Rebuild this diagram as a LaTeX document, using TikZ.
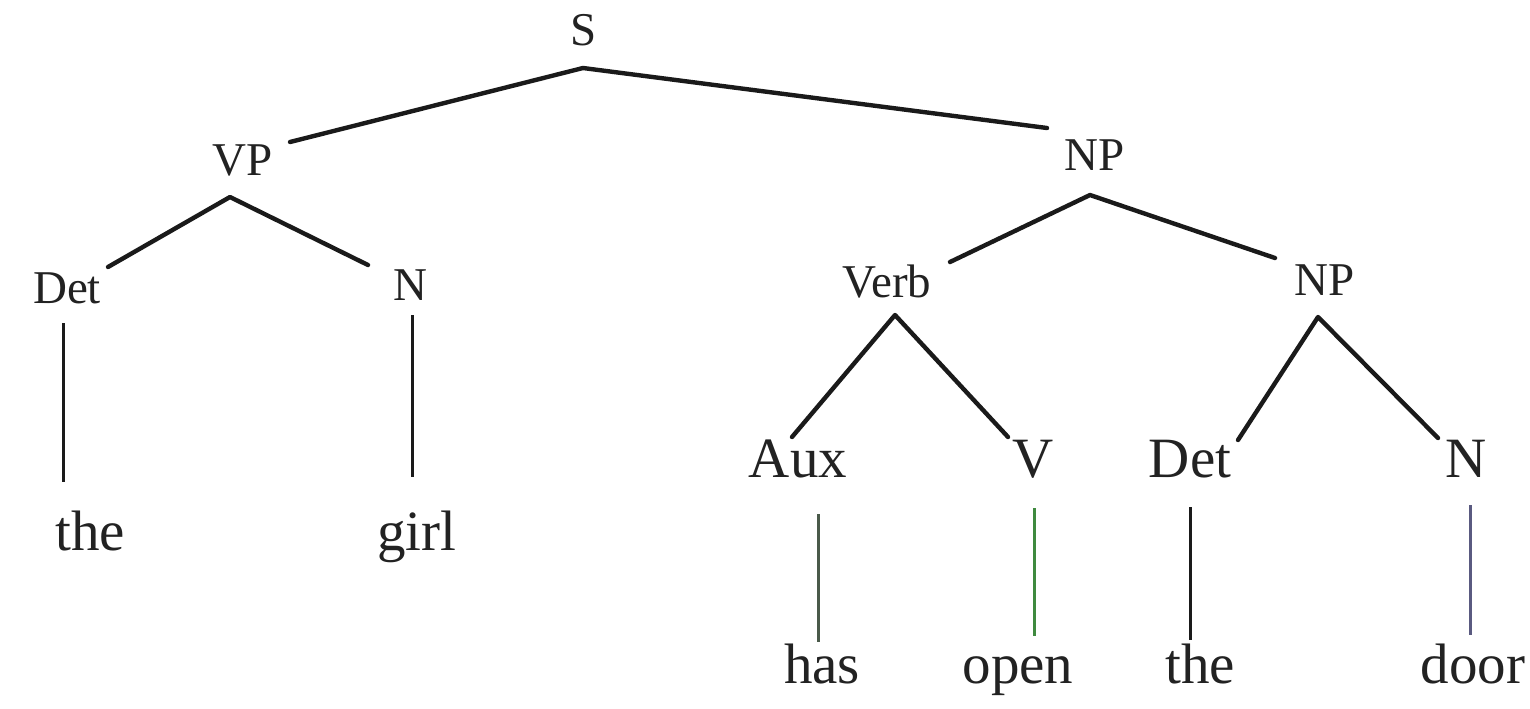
\documentclass[tikz,border=0pt]{standalone}
\usepackage{fontspec}
\setmainfont{Liberation Serif}
\definecolor{ink}{HTML}{222222}
\definecolor{lineink}{HTML}{1A1A1A}
\definecolor{auxline}{HTML}{4A5A4A}
\definecolor{greenline}{HTML}{3F8A3F}
\definecolor{blueline}{HTML}{5A5A80}
\tikzset{
  upper/.style={anchor=base, inner sep=0pt, text=ink, font=\fontsize{23.5}{26}\selectfont},
  lower/.style={anchor=base, inner sep=0pt, text=ink, font=\fontsize{28.5}{32}\selectfont},
  branch/.style={draw=lineink, line width=2.2pt, line cap=round, line join=round},
  stem/.style={draw=#1, line width=1.5pt},
}
\begin{document}
\begin{tikzpicture}[x=0.5pt, y=-0.5pt]
\useasboundingbox (0,0) rectangle (1530,708);
% labels
\node[upper] (S)    at (584,45)  {S};
\node[upper] (VP)   at (243,175) {VP};
\node[upper] (NP)   at (1095,170) {NP};
\node[upper] (Det1) at (67,303)  {Det};
\node[upper] (N1)   at (410,300) {N};
\node[upper] (Verb) at (887,297) {Verb};
\node[upper] (NP2)  at (1325,295) {NP};
\node[lower] (Aux)  at (798,477) {Aux};
\node[lower] (V)    at (1033,477) {V};
\node[lower] (Det2) at (1190,477) {Det};
\node[lower] (N2)   at (1466,477) {N};
\node[lower] (the1) at (90,550)  {the};
\node[lower] (girl) at (417,550) {girl};
\node[lower] (has)  at (822,683) {has};
\node[lower] (open) at (1018,683) {open};
\node[lower] (the2) at (1200,683) {the};
\node[lower] (door) at (1473,683) {door};
% branch points
\coordinate (Sa)   at (583,68);
\coordinate (VPt)  at (290,142);
\coordinate (NPt)  at (1047,128);
\coordinate (VPa)  at (230,197);
\coordinate (Det1t) at (108,267);
\coordinate (N1t)  at (368,265);
\coordinate (NPa)  at (1090,195);
\coordinate (Verbt) at (950,262);
\coordinate (NP2t) at (1275,258);
\coordinate (Verba) at (895,315);
\coordinate (Auxt) at (792,437);
\coordinate (Vt)   at (1008,437);
\coordinate (NP2a) at (1318,317);
\coordinate (Det2t) at (1238,440);
\coordinate (N2t)  at (1438,438);
% stem end points
\coordinate (Det1b) at (63,323);  \coordinate (the1t) at (63,482);
\coordinate (N1b)   at (412,315); \coordinate (girlt) at (412,477);
\coordinate (Auxb)  at (818,514); \coordinate (hast)  at (818,642);
\coordinate (Vb)    at (1034,508); \coordinate (opent) at (1034,636);
\coordinate (Det2b) at (1190,507); \coordinate (the2t) at (1190,640);
\coordinate (N2b)   at (1470,505); \coordinate (doort) at (1470,635);
% branches
\draw[branch] (VPt) -- (Sa) -- (NPt);
\draw[branch] (Det1t) -- (VPa) -- (N1t);
\draw[branch] (Verbt) -- (NPa) -- (NP2t);
\draw[branch] (Auxt) -- (Verba) -- (Vt);
\draw[branch] (Det2t) -- (NP2a) -- (N2t);
% stems
\draw[stem=lineink] (Det1b) -- (the1t);
\draw[stem=lineink] (N1b) -- (girlt);
\draw[stem=auxline] (Auxb) -- (hast);
\draw[stem=greenline] (Vb) -- (opent);
\draw[stem=lineink] (Det2b) -- (the2t);
\draw[stem=blueline] (N2b) -- (doort);
\end{tikzpicture}
\end{document}
